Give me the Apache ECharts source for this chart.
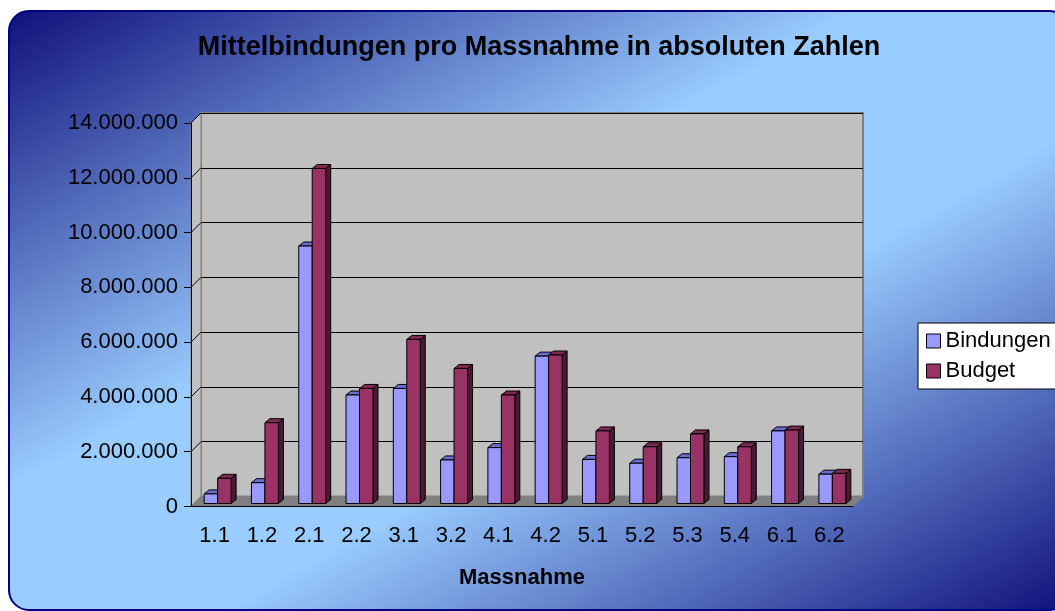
<!DOCTYPE html>
<html>
<head>
<meta charset="utf-8">
<script src="https://cdn.jsdelivr.net/npm/echarts@6/dist/echarts.min.js"></script>
<style>
  html, body { margin: 0; padding: 0; background: #fff; }
  #chart { width: 1055px; height: 611px; }
</style>
</head>
<body>
<div id="chart"></div>
<script>
// Daten
const categories = ['1.1', '1.2', '2.1', '2.2', '3.1', '3.2', '4.1', '4.2', '5.1', '5.2', '5.3', '5.4', '6.1', '6.2'];
const bindungen = [350000, 760000, 9400000, 3960000, 4200000, 1590000, 2040000, 5380000, 1610000, 1470000, 1670000, 1710000, 2650000, 1070000];
const budget = [920000, 2950000, 12230000, 4200000, 5990000, 4930000, 3960000, 5420000, 2650000, 2070000, 2540000, 2070000, 2680000, 1100000];
const yMax = 14000000;
const yStep = 2000000;

// Layout (Vorderkante des Plotbereichs + 3D-Tiefe)
const G = { left: 191, top: 123, right: 202, bottom: 104.5 };
const DEPTH = { x: 10, y: -10 };
const PANEL = { x: 9, y: 11, w: 1060, h: 599 };
const FONT = '"Liberation Sans", Arial, sans-serif';

const fmt = (v) => String(v).replace(/\B(?=(\d{3})+(?!\d))/g, '.');

// 3D-Säule: Vorderseite, Deckel, rechte Seite
function bar3d(slot, front, topFill, sideFill) {
  return function (params, api) {
    const idx = api.value(0);
    const base = api.coord([idx, 0]);
    const top = api.coord([idx, api.value(1)]);
    const band = api.size([1, 0])[0];
    const bw = band * 0.285;
    const x0 = base[0] + 3 + (slot === 0 ? -bw : 0);
    const by = base[1] - 3, ty = top[1] - 3;
    const dx = 5, dy = -4;
    const ls = { stroke: '#000', lineWidth: 1 };
    return {
      type: 'group',
      children: [
        { type: 'polygon', shape: { points: [[x0 + bw, ty], [x0 + bw + dx, ty + dy], [x0 + bw + dx, by + dy], [x0 + bw, by]] },
          style: Object.assign({ fill: sideFill }, ls) },
        { type: 'polygon', shape: { points: [[x0, ty], [x0 + dx, ty + dy], [x0 + bw + dx, ty + dy], [x0 + bw, ty]] },
          style: Object.assign({ fill: topFill }, ls) },
        { type: 'rect', shape: { x: x0, y: ty, width: bw, height: by - ty },
          style: Object.assign({ fill: front }, ls) }
      ]
    };
  };
}

const chart = echarts.init(document.getElementById('chart'));

const option = {
  animation: false,
  textStyle: { fontFamily: FONT },
  title: {
    text: 'Mittelbindungen pro Massnahme in absoluten Zahlen',
    left: 534, top: 29, textAlign: 'center',
    textStyle: { fontSize: 27, fontWeight: 'bold', color: '#000', fontFamily: FONT }
  },
  legend: {
    orient: 'vertical', left: 918, top: 323,
    backgroundColor: '#fff', borderColor: '#000', borderWidth: 1, borderRadius: 0,
    padding: [7, 8], itemGap: 8, itemWidth: 14, itemHeight: 14, icon: 'rect',
    itemStyle: { borderColor: '#000', borderWidth: 1 },
    textStyle: { fontSize: 22, color: '#000', fontFamily: FONT },
    data: ['Bindungen', 'Budget']
  },
  grid: [
    { left: G.left, top: G.top, right: G.right, bottom: G.bottom },
    { left: G.left + DEPTH.x, top: G.top + DEPTH.y, right: G.right - DEPTH.x, bottom: G.bottom - DEPTH.y,
      show: true, backgroundColor: '#c0c0c0', borderColor: '#808080', borderWidth: 2 }
  ],
  xAxis: [
    {
      type: 'category', data: categories, gridIndex: 0, z: 3,
      axisLine: { lineStyle: { color: '#000', width: 1 } },
      axisTick: { length: 6, lineStyle: { color: '#000' } },
      axisLabel: { fontSize: 22, color: '#000', margin: 18, fontFamily: FONT },
      name: 'Massnahme', nameLocation: 'middle', nameGap: 60,
      nameTextStyle: { fontSize: 22, fontWeight: 'bold', color: '#000', fontFamily: FONT }
    },
    { type: 'category', data: categories, gridIndex: 1, show: false }
  ],
  yAxis: [
    {
      type: 'value', gridIndex: 0, min: 0, max: yMax, interval: yStep, z: 3,
      axisLine: { show: true, lineStyle: { color: '#000', width: 1 } },
      axisTick: { show: true, length: 7, lineStyle: { color: '#000' } },
      axisLabel: { fontSize: 22, color: '#000', margin: 13, formatter: fmt, fontFamily: FONT },
      splitLine: { show: false }
    },
    {
      type: 'value', gridIndex: 1, min: 0, max: yMax, interval: yStep,
      axisLine: { show: false }, axisTick: { show: false }, axisLabel: { show: false },
      splitLine: { show: true, lineStyle: { color: '#000', width: 1 } }
    }
  ],
  series: [
    {
      name: 'Bindungen', type: 'custom', xAxisIndex: 0, yAxisIndex: 0, z: 2,
      itemStyle: { color: '#9999ff', borderColor: '#000', borderWidth: 1 },
      renderItem: bar3d(0, '#9999ff', '#6b6bd0', '#4c4c99'),
      data: bindungen.map((v, i) => [i, v])
    },
    {
      name: 'Budget', type: 'custom', xAxisIndex: 0, yAxisIndex: 0, z: 2,
      itemStyle: { color: '#993366', borderColor: '#000', borderWidth: 1 },
      renderItem: bar3d(1, '#993366', '#7f2a52', '#4c1933'),
      data: budget.map((v, i) => [i, v])
    }
  ]
};
chart.setOption(option);

// Hintergrund, Seitenwand, Boden aus den Achsenpositionen
const W = chart.getWidth();
const xl = G.left, xr = W - G.right;
const y0 = chart.convertToPixel({ yAxisIndex: 0 }, 0);
const yTop = chart.convertToPixel({ yAxisIndex: 0 }, yMax);
// Verlauf diagonal wie in Office: Isolinien laufen von Ecke oben rechts nach unten links
const k = 2 * PANEL.w * PANEL.h / (PANEL.w * PANEL.w + PANEL.h * PANEL.h);
const gx2 = k * PANEL.h / PANEL.w, gy2 = k * PANEL.w / PANEL.h;
const graphics = [
  {
    type: 'rect', z: -10, silent: true,
    shape: { x: PANEL.x, y: PANEL.y, width: PANEL.w, height: PANEL.h, r: 20 },
    style: {
      fill: new echarts.graphic.LinearGradient(0, 0, gx2, gy2, [
        { offset: 0, color: '#10107a' },
        { offset: 0.4, color: '#99ccff' },
        { offset: 0.6, color: '#99ccff' },
        { offset: 1, color: '#10107a' }
      ]),
      stroke: '#000080', lineWidth: 2
    }
  },
  {
    type: 'polygon', z: 0, silent: true,
    shape: { points: [[xl, yTop], [xl + DEPTH.x, yTop + DEPTH.y], [xl + DEPTH.x, y0 + DEPTH.y], [xl, y0]] },
    style: { fill: '#c0c0c0', stroke: '#808080', lineWidth: 1 }
  },
  {
    type: 'polygon', z: 0, silent: true,
    shape: { points: [[xl, y0], [xr, y0], [xr + DEPTH.x, y0 + DEPTH.y], [xl + DEPTH.x, y0 + DEPTH.y]] },
    style: { fill: '#808080', stroke: '#808080', lineWidth: 1 }
  }
];
for (let v = yStep; v <= yMax; v += yStep) {
  const y = chart.convertToPixel({ yAxisIndex: 0 }, v);
  graphics.push({
    type: 'line', z: 1, silent: true,
    shape: { x1: xl, y1: y, x2: xl + DEPTH.x, y2: y + DEPTH.y },
    style: { stroke: '#000', lineWidth: 1 }
  });
}
chart.setOption({ graphic: graphics });
</script>
</body>
</html>
